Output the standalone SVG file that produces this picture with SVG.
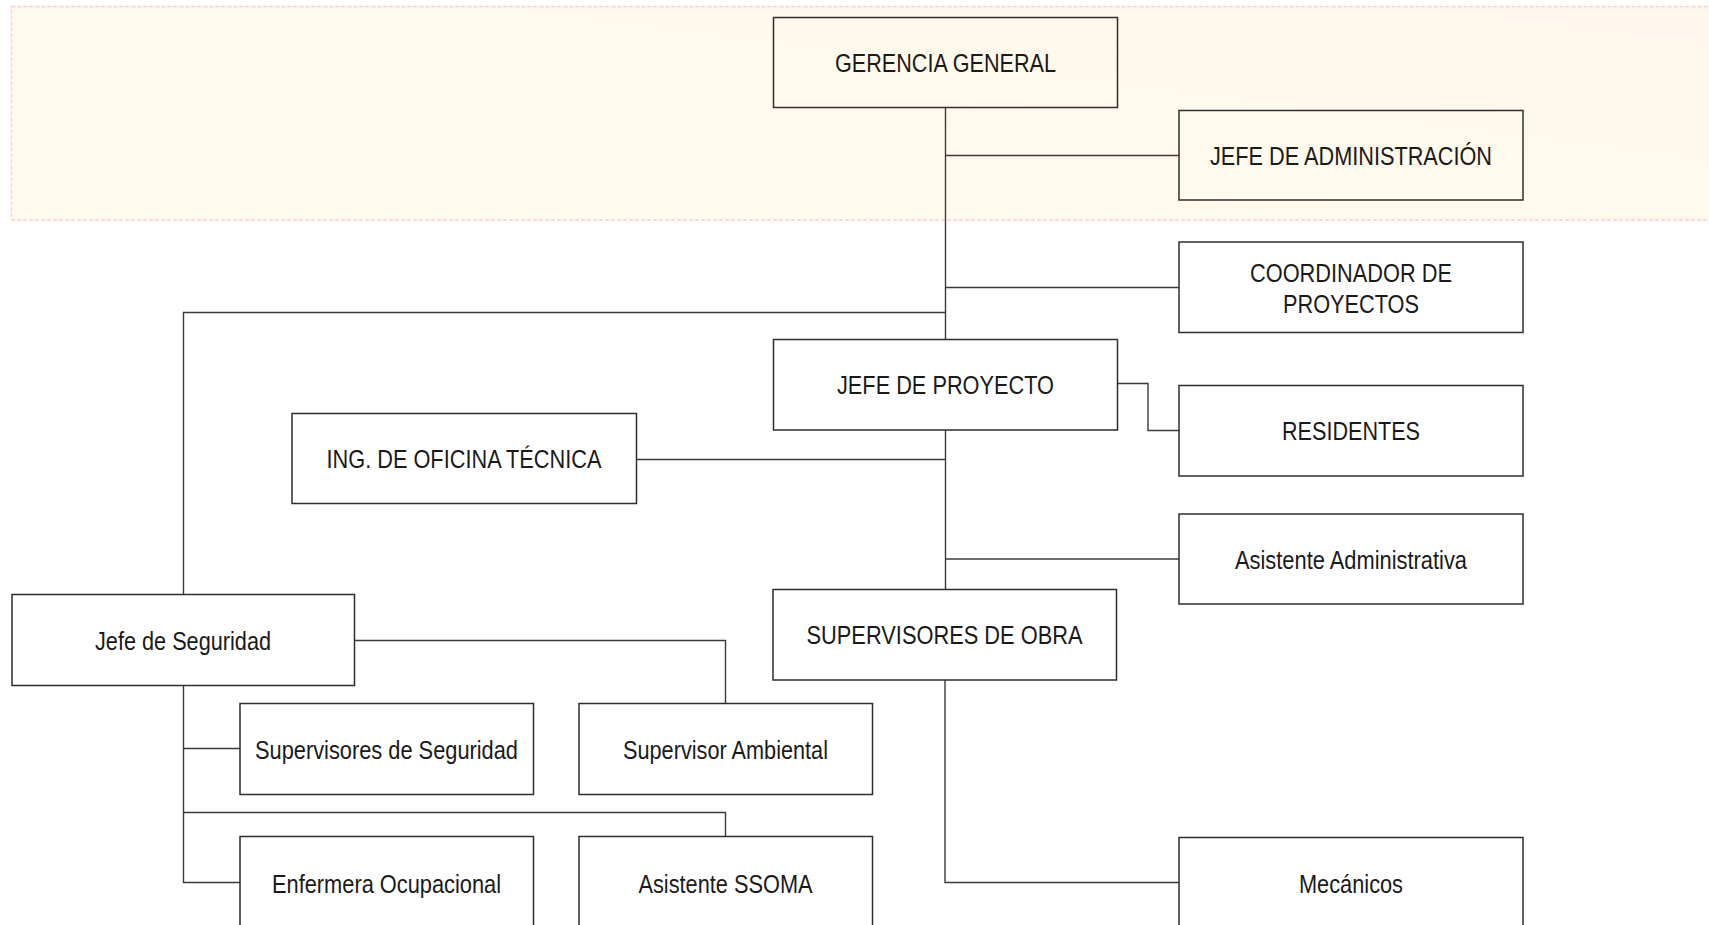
<svg xmlns="http://www.w3.org/2000/svg" width="1709" height="925" viewBox="0 0 1709 925">
<defs>
<linearGradient id="band" x1="0" y1="1" x2="1" y2="0">
<stop offset="0" stop-color="#FFFCEE"/>
<stop offset="1" stop-color="#FFF8EB"/>
</linearGradient>
<style>
.box{fill:#FFFFFF;stroke:#2E2E2E;stroke-width:1.5}
.boxb{fill:none;stroke:#2E2E2E;stroke-width:1.5}
.lbl{font-family:"Liberation Sans Narrow","Liberation Sans",Arial,sans-serif;font-size:26px;fill:#1A1A1A;text-anchor:middle}
.con{fill:none;stroke:#3A3A3A;stroke-width:1.4}
</style>
</defs>
<rect width="1709" height="925" fill="#FFFFFF"/>
<rect x="11.5" y="6.5" width="1710" height="213.5" fill="url(#band)" stroke="#FFC9D2" stroke-width="1.3" stroke-dasharray="4 2"/>

<g id="connectors">
<path class="con" d="M945.5 107.5 V339.5"/>
<path class="con" d="M945.5 155.5 H1179"/>
<path class="con" d="M945.5 287.5 H1179"/>
<path class="con" d="M945.5 312.5 H183.5 V594.5"/>
<path class="con" d="M1117.5 383.5 H1148 V430.5 H1179"/>
<path class="con" d="M945.5 430 V589.5"/>
<path class="con" d="M636.5 459.5 H945.5"/>
<path class="con" d="M945.5 559 H1179"/>
<path class="con" d="M945 680 V882.5 H1179"/>
<path class="con" d="M183.5 685.5 V882.5 H240"/>
<path class="con" d="M183.5 748.5 H240"/>
<path class="con" d="M183.5 812.5 H725.5 V836.5"/>
<path class="con" d="M354.5 640.5 H725.5 V703.5"/>
</g>

<g id="gerencia-general">
<rect class="boxb" x="773.5" y="17.5" width="344" height="90"/>
<text class="lbl" x="945.5" y="72" textLength="221" lengthAdjust="spacingAndGlyphs">GERENCIA GENERAL</text>
</g>
<g id="jefe-administracion">
<rect class="boxb" x="1179" y="110.5" width="344" height="89.5"/>
<text class="lbl" x="1351" y="165" textLength="282" lengthAdjust="spacingAndGlyphs">JEFE DE ADMINISTRACIÓN</text>
</g>
<g id="coordinador-proyectos">
<rect class="box" x="1179" y="242" width="344" height="90.5"/>
<text class="lbl" x="1351" y="282" textLength="202" lengthAdjust="spacingAndGlyphs">COORDINADOR DE</text>
<text class="lbl" x="1351" y="312.5" textLength="136" lengthAdjust="spacingAndGlyphs">PROYECTOS</text>
</g>
<g id="jefe-proyecto">
<rect class="box" x="773.5" y="339.5" width="344" height="90.5"/>
<text class="lbl" x="945.5" y="394" textLength="217" lengthAdjust="spacingAndGlyphs">JEFE DE PROYECTO</text>
</g>
<g id="residentes">
<rect class="box" x="1179" y="385.5" width="344" height="90.5"/>
<text class="lbl" x="1351" y="440" textLength="138" lengthAdjust="spacingAndGlyphs">RESIDENTES</text>
</g>
<g id="ing-oficina-tecnica">
<rect class="box" x="292" y="413.5" width="344.5" height="90"/>
<text class="lbl" x="464" y="468" textLength="275" lengthAdjust="spacingAndGlyphs">ING. DE OFICINA TÉCNICA</text>
</g>
<g id="asistente-administrativa">
<rect class="box" x="1179" y="514" width="344" height="90"/>
<text class="lbl" x="1351" y="568.5" textLength="232" lengthAdjust="spacingAndGlyphs">Asistente Administrativa</text>
</g>
<g id="supervisores-obra">
<rect class="box" x="773" y="589.5" width="343.5" height="90.5"/>
<text class="lbl" x="944.5" y="644" textLength="276" lengthAdjust="spacingAndGlyphs">SUPERVISORES DE OBRA</text>
</g>
<g id="jefe-seguridad">
<rect class="box" x="12" y="594.5" width="342.5" height="91"/>
<text class="lbl" x="183" y="649.5" textLength="176" lengthAdjust="spacingAndGlyphs">Jefe de Seguridad</text>
</g>
<g id="supervisores-seguridad">
<rect class="box" x="240" y="703.5" width="293.5" height="91"/>
<text class="lbl" x="386.5" y="758.5" textLength="263" lengthAdjust="spacingAndGlyphs">Supervisores de Seguridad</text>
</g>
<g id="supervisor-ambiental">
<rect class="box" x="579" y="703.5" width="293.5" height="91"/>
<text class="lbl" x="725.5" y="758.5" textLength="205" lengthAdjust="spacingAndGlyphs">Supervisor Ambiental</text>
</g>
<g id="enfermera-ocupacional">
<rect class="box" x="240" y="836.5" width="293.5" height="91"/>
<text class="lbl" x="386.5" y="893" textLength="229" lengthAdjust="spacingAndGlyphs">Enfermera Ocupacional</text>
</g>
<g id="asistente-ssoma">
<rect class="box" x="579" y="836.5" width="293.5" height="91"/>
<text class="lbl" x="725.5" y="893" textLength="174" lengthAdjust="spacingAndGlyphs">Asistente SSOMA</text>
</g>
<g id="mecanicos">
<rect class="box" x="1179" y="837.5" width="344" height="91"/>
<text class="lbl" x="1351" y="892.5" textLength="104" lengthAdjust="spacingAndGlyphs">Mecánicos</text>
</g>
</svg>
